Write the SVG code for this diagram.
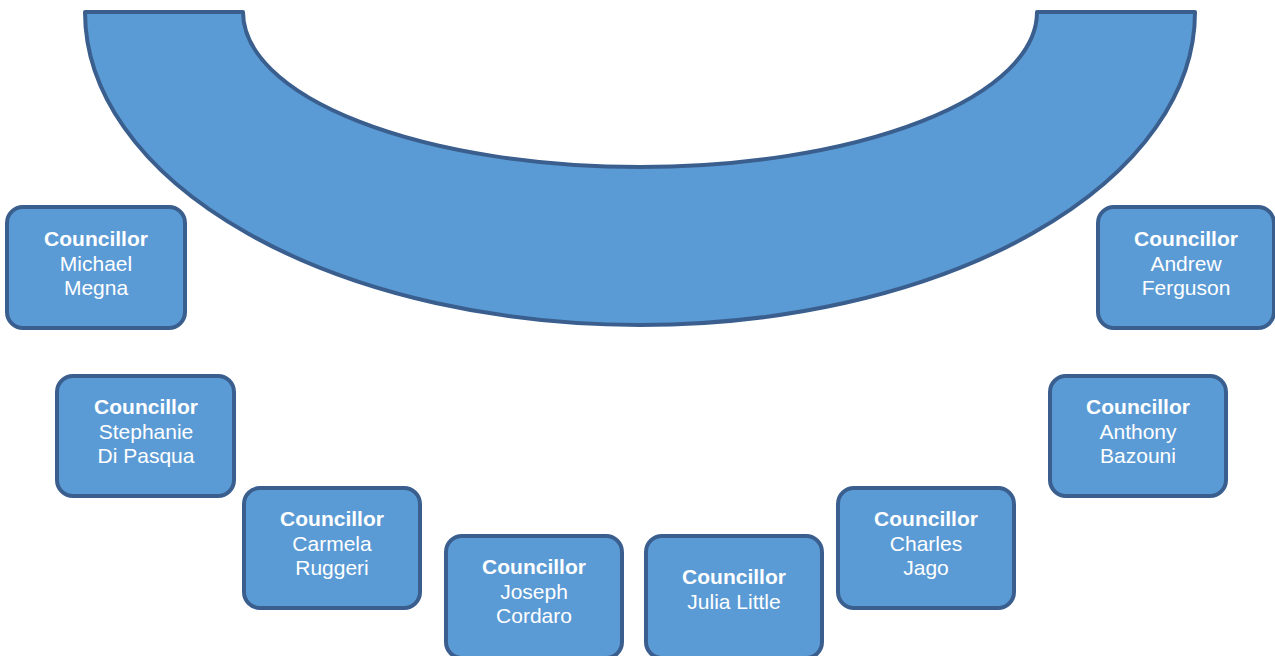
<svg xmlns="http://www.w3.org/2000/svg" width="1275" height="656" viewBox="0 0 1275 656">
  <style>
    .shape { fill: #5B9BD5; stroke: #3A5F8E; stroke-width: 4; stroke-linejoin: round; }
    .t { font-family: "Liberation Sans", Arial, sans-serif; font-size: 21px; fill: #FFFFFF; text-anchor: middle; }
    .b { font-weight: bold; }
  </style>
  <rect width="1275" height="656" fill="#FFFFFF"/>

  <!-- horseshoe table -->
  <g id="table">
    <path class="shape" d="M 85 12 L 243 12 A 397 155 0 0 0 1037 12 L 1195 12 A 555 313 0 0 1 85 12 Z"/>
  </g>

  <g id="megna">
    <rect class="shape" x="7" y="207" width="178" height="121" rx="16"/>
    <text class="t b" x="96" y="246">Councillor</text>
    <text class="t" x="96" y="270.5">Michael</text>
    <text class="t" x="96" y="295">Megna</text>
  </g>
  <g id="ferguson">
    <rect class="shape" x="1098" y="207" width="176" height="121" rx="16"/>
    <text class="t b" x="1186" y="246">Councillor</text>
    <text class="t" x="1186" y="270.5">Andrew</text>
    <text class="t" x="1186" y="295">Ferguson</text>
  </g>
  <g id="dipasqua">
    <rect class="shape" x="57" y="376" width="177" height="120" rx="16"/>
    <text class="t b" x="146" y="414">Councillor</text>
    <text class="t" x="146" y="438.5">Stephanie</text>
    <text class="t" x="146" y="463">Di Pasqua</text>
  </g>
  <g id="bazouni">
    <rect class="shape" x="1050" y="376" width="176" height="120" rx="16"/>
    <text class="t b" x="1138" y="414">Councillor</text>
    <text class="t" x="1138" y="438.5">Anthony</text>
    <text class="t" x="1138" y="463">Bazouni</text>
  </g>
  <g id="ruggeri">
    <rect class="shape" x="244" y="488" width="176" height="120" rx="16"/>
    <text class="t b" x="332" y="526">Councillor</text>
    <text class="t" x="332" y="550.5">Carmela</text>
    <text class="t" x="332" y="575">Ruggeri</text>
  </g>
  <g id="jago">
    <rect class="shape" x="838" y="488" width="176" height="120" rx="16"/>
    <text class="t b" x="926" y="526">Councillor</text>
    <text class="t" x="926" y="550.5">Charles</text>
    <text class="t" x="926" y="575">Jago</text>
  </g>
  <g id="cordaro">
    <rect class="shape" x="446" y="536" width="176" height="122" rx="16"/>
    <text class="t b" x="534" y="574">Councillor</text>
    <text class="t" x="534" y="598.5">Joseph</text>
    <text class="t" x="534" y="623">Cordaro</text>
  </g>
  <g id="little">
    <rect class="shape" x="646" y="536" width="176" height="122" rx="16"/>
    <text class="t b" x="734" y="584">Councillor</text>
    <text class="t" x="734" y="608.5">Julia Little</text>
  </g>

  <g id="connectors"></g>
</svg>
